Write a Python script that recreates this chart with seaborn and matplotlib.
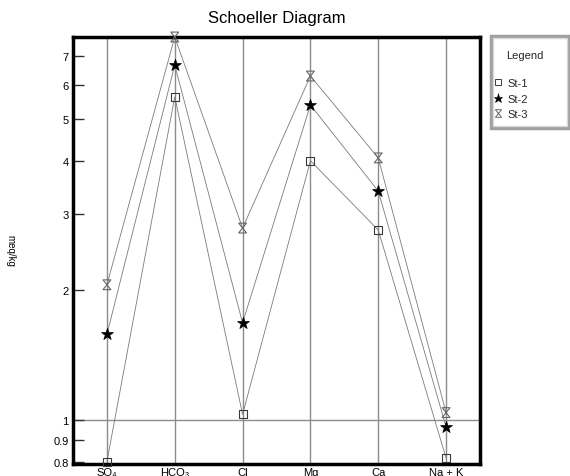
import numpy as np
import pandas as pd
import matplotlib
matplotlib.use("Agg")
import matplotlib.pyplot as plt
import seaborn as sns
from matplotlib.path import Path
from matplotlib.patches import Rectangle
from matplotlib.lines import Line2D
from matplotlib.ticker import NullLocator

# Major ions (meq/kg) for three stations
ions = ["SO\u2084", "HCO\u2083", "Cl", "Mg", "Ca", "Na + K"]
stations = ["St-1", "St-2", "St-3"]
st1 = [0.80, 5.63, 1.03, 4.00, 2.76, 0.815]
st2 = [1.58, 6.67, 1.68, 5.39, 3.40, 0.963]
st3 = [2.06, 7.75, 2.79, 6.29, 4.06, 1.04]

ytick_values = [0.8, 0.9, 1, 2, 3, 4, 5, 6, 7]
ytick_labels = ["0.8", "0.9", "1", "2", "3", "4", "5", "6", "7"]

df = pd.DataFrame({
    "ion": np.tile(np.arange(len(ions)), len(stations)),
    "value": st1 + st2 + st3,
    "station": np.repeat(stations, len(ions)),
})

sns.set_theme(style="white")
plt.rcParams["font.family"] = ["Liberation Sans", "DejaVu Sans"]

fig = plt.figure(figsize=(5.7, 4.77), dpi=100)
ax = fig.add_axes([73 / 570, 12 / 477, 407 / 570, 427 / 477])

# hourglass marker outline
hourglass = Path([(-0.8, 1), (0.8, 1), (-0.8, -1), (0.8, -1), (-0.8, 1)],
                 [Path.MOVETO, Path.LINETO, Path.LINETO, Path.LINETO, Path.CLOSEPOLY])

styles = {
    "St-1": dict(marker="s", s=34, facecolor="none", edgecolor="#3a3a3a", linewidth=0.8),
    "St-2": dict(marker="*", s=80, facecolor="black", edgecolor="black", linewidth=0.5),
    "St-3": dict(marker=hourglass, s=50, facecolor="none", edgecolor="#666666", linewidth=0.8),
}

ax.set_yscale("log")
ax.set_xlim(-0.5, len(ions) - 0.5)
ax.set_ylim(0.79, 7.75)

ax.set_xticks(range(len(ions)))
ax.xaxis.grid(True, color="#8c8c8c", lw=1.0, zorder=0)
ax.axhline(1, color="#8c8c8c", lw=1.0, zorder=0)

sns.lineplot(data=df, x="ion", y="value", hue="station",
             palette=["#7a7a7a"] * 3, lw=0.6, sort=False,
             legend=False, ax=ax, zorder=2)

for name in stations:
    sub = df[df["station"] == name]
    sns.scatterplot(data=sub, x="ion", y="value", ax=ax, zorder=3,
                    clip_on=False, legend=False, **styles[name])

ax.set_xticklabels(ions)
ax.set_yticks(ytick_values)
ax.set_yticklabels(ytick_labels)
ax.yaxis.set_minor_locator(NullLocator())
ax.tick_params(axis="y", which="major", direction="in", length=8, width=1,
               color="#333333", labelsize=8, pad=3, left=True, labelcolor="black")
ax.tick_params(axis="x", length=0, pad=2, labelsize=8, labelcolor="black")
ax.set_xlabel("")
ax.set_ylabel("")

for sp in ax.spines.values():
    sp.set_color("black")
    sp.set_linewidth(2.5)

fig.text(277 / 570, 1 - 18 / 477, "Schoeller Diagram", ha="center", va="center",
         fontsize=12, color="black")
fig.text(10 / 570, 1 - 251 / 477, "meq/kg", rotation=270, ha="center",
         va="center", fontsize=7, color="black")

# legend panel with bevelled frame
x0, y0 = 491 / 570, 1 - 129 / 477
w, h = 78 / 570, 92 / 477
fig.patches.append(Rectangle((x0, y0), w, h, transform=fig.transFigure,
                             facecolor="white", edgecolor="#a0a0a0", lw=2.5))
fig.patches.append(Rectangle((x0 + 2 / 570, y0 + 2 / 477), w - 4 / 570, h - 4 / 477,
                             transform=fig.transFigure, facecolor="none",
                             edgecolor="#d8d8d8", lw=1.0))
fig.text(525 / 570, 1 - 56 / 477, "Legend", ha="center", va="center", fontsize=8)

legend_handles = [
    Line2D([], [], ls="none", marker="s", ms=4.5, mfc="none", mec="#3a3a3a", mew=0.7),
    Line2D([], [], ls="none", marker="*", ms=6.5, mfc="black", mec="black", mew=0.4),
    Line2D([], [], ls="none", marker=hourglass, ms=5.5, mfc="none", mec="#666666", mew=0.7),
]
fig.legend(legend_handles, stations, loc="upper left",
           bbox_to_anchor=(494 / 570, 1 - 79 / 477), frameon=False,
           fontsize=8, handlelength=0.8, handletextpad=0.4, labelspacing=0.5,
           borderaxespad=0, borderpad=0)

fig.savefig("out.png", dpi=100)
